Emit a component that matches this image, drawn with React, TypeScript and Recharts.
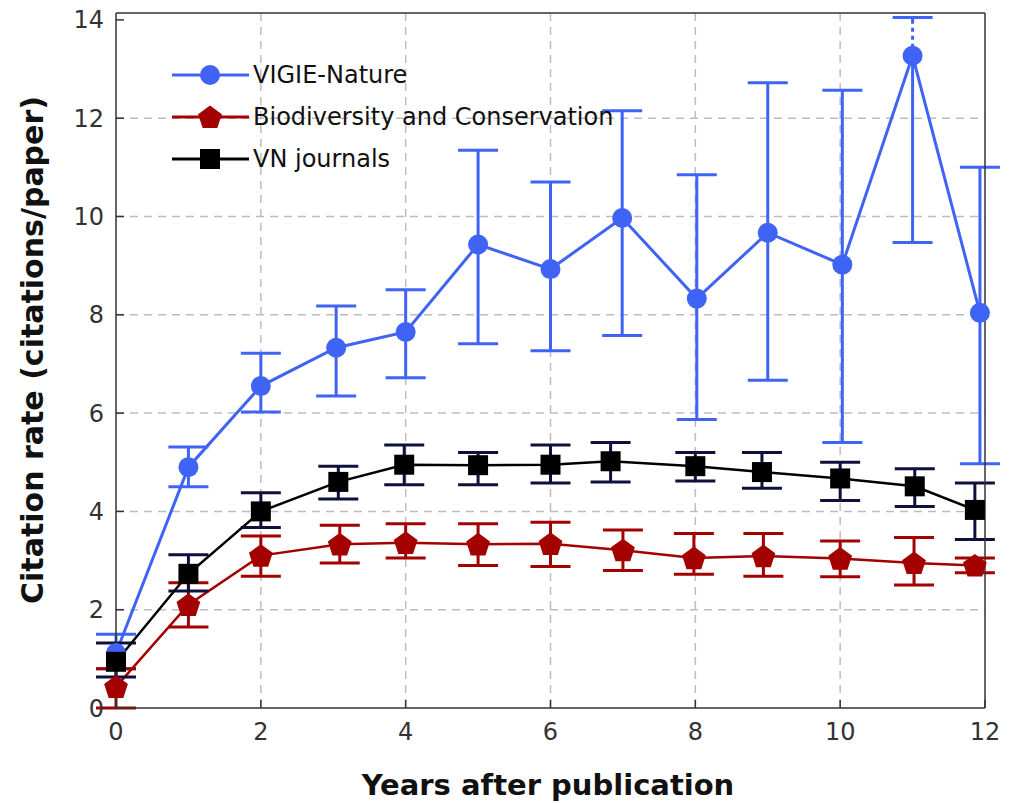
import React from 'react';
import { LineChart, Line, XAxis, YAxis, CartesianGrid, ErrorBar, Legend, Label } from 'recharts';

// VIGIE-Nature
const vigieX = [0, 1, 2, 3.04, 4, 5, 6, 6.99, 8.02, 9, 10.03, 11, 11.93];
const vigieY = [1.12, 4.9, 6.55, 7.33, 7.65, 9.43, 8.93, 9.97, 8.33, 9.67, 9.02, 13.27, 8.04];
const vigieHi = [1.5, 5.31, 7.22, 8.18, 8.51, 11.35, 10.7, 12.15, 10.85, 12.72, 12.57, 14.05, 11.0];
const vigieLo = [0.8, 4.5, 6.02, 6.35, 6.72, 7.41, 7.27, 7.58, 5.87, 6.67, 5.4, 9.47, 4.97];
// point whose upper whisker is drawn dotted in the original
const vigieDotted = 11;

// Biodiversity and Conservation
const bioX = [0, 1, 2, 3.09, 4, 5, 6, 7, 7.98, 8.94, 10, 11.02, 11.86];
const bioY = [0.43, 2.1, 3.1, 3.33, 3.36, 3.33, 3.34, 3.21, 3.05, 3.09, 3.04, 2.95, 2.9];
const bioHi = [0.8, 2.55, 3.5, 3.72, 3.75, 3.75, 3.78, 3.62, 3.55, 3.55, 3.4, 3.47, 3.05];
const bioLo = [0, 1.65, 2.68, 2.95, 3.05, 2.9, 2.88, 2.8, 2.72, 2.68, 2.67, 2.5, 2.75];

// VN journals
const vnX = [0, 1, 2, 3.07, 3.98, 5, 6, 6.83, 8, 8.92, 10, 11.03, 11.86];
const vnY = [0.94, 2.73, 4.0, 4.6, 4.95, 4.94, 4.95, 5.02, 4.92, 4.8, 4.67, 4.51, 4.03];
const vnHi = [1.32, 3.12, 4.38, 4.92, 5.35, 5.2, 5.35, 5.4, 5.2, 5.2, 5.0, 4.87, 4.58];
const vnLo = [0.63, 2.38, 3.67, 4.25, 4.54, 4.54, 4.58, 4.6, 4.62, 4.47, 4.22, 4.1, 3.43];

const xTicks = [0, 2, 4, 6, 8, 10, 12];
const yTicks = [0, 2, 4, 6, 8, 10, 12, 14];

const BLUE = '#3f64f5';
const RED = '#a30000';
const BLACK = '#000000';
const NAVY = '#10103c';
const FONT = '"DejaVu Sans", sans-serif';

const build = (xs: number[], ys: number[], hi: number[], lo: number[]) =>
  xs.map((x, i) => ({ x, y: ys[i], err: [ys[i] - lo[i], hi[i] - ys[i]] }));

const vigieData = build(vigieX, vigieY, vigieHi, vigieLo);
const bioData = build(bioX, bioY, bioHi, bioLo);
const vnData = build(vnX, vnY, vnHi, vnLo);

// white dashes over the upper whisker -> dotted look
const dottedMask = [
  { x: vigieX[vigieDotted], y: vigieY[vigieDotted] },
  { x: vigieX[vigieDotted], y: vigieHi[vigieDotted] },
];

const pentagonPoints = (cx: number, cy: number, r: number) =>
  Array.from({ length: 5 }, (_, k) => {
    const a = -Math.PI / 2 + (k * 2 * Math.PI) / 5;
    return `${cx + r * Math.cos(a)},${cy + r * Math.sin(a)}`;
  }).join(' ');

const CircleDot = (props: any) => (
  <circle key={`c-${props.index}`} cx={props.cx} cy={props.cy} r={10} fill={BLUE} />
);
const PentagonDot = (props: any) => (
  <polygon key={`p-${props.index}`} points={pentagonPoints(props.cx, props.cy + 1, 12.5)} fill={RED} />
);
const SquareDot = (props: any) => (
  <rect key={`s-${props.index}`} x={props.cx - 10} y={props.cy - 10} width={20} height={20} fill={BLACK} />
);

const legendItems = [
  { name: 'VIGIE-Nature', color: BLUE, shape: 'circle' },
  { name: 'Biodiversity and Conservation', color: RED, shape: 'pentagon' },
  { name: 'VN journals', color: BLACK, shape: 'square' },
];

const LegendBox = () => (
  <div style={{ fontFamily: FONT, fontSize: 24, color: '#111', textAlign: 'left' }}>
    {legendItems.map((it) => (
      <div key={it.name} style={{ display: 'flex', alignItems: 'center', height: 42 }}>
        <svg width={81} height={30}>
          <line x1={2} y1={15} x2={79} y2={15} stroke={it.color} strokeWidth={3} />
          {it.shape === 'circle' && <circle cx={40} cy={15} r={10} fill={it.color} />}
          {it.shape === 'pentagon' && <polygon points={pentagonPoints(40, 16, 12.5)} fill={it.color} />}
          {it.shape === 'square' && <rect x={30} y={5} width={20} height={20} fill={it.color} />}
        </svg>
        <span style={{ marginLeft: 2 }}>{it.name}</span>
      </div>
    ))}
  </div>
);

const tickStyle = { fontFamily: FONT, fontSize: 24, fill: '#333' };
const axisStroke = { stroke: '#333', strokeWidth: 1.5 };

export default function App() {
  return (
    <div style={{ position: 'absolute', left: 0, top: 0, width: 1019, height: 803, background: '#fff' }}>
      <LineChart width={1019} height={803} margin={{ top: 12, right: 33, bottom: 0, left: 0 }}>
        <CartesianGrid
          strokeDasharray="8 6"
          stroke="#bdbdbd"
          strokeWidth={1.5}
          horizontalValues={[2, 4, 6, 8, 10, 12]}
          verticalValues={[2, 4, 6, 8, 10]}
        />
        <XAxis
          dataKey="x"
          type="number"
          domain={[0, 12]}
          ticks={xTicks}
          height={95}
          tickSize={-8}
          tickMargin={23}
          tick={tickStyle}
          axisLine={axisStroke}
          tickLine={axisStroke}
        >
          <Label
            content={() => (
              <text x={548} y={795} textAnchor="middle" fontFamily={FONT} fontSize={29} fontWeight="bold" fill="#111">
                Years after publication
              </text>
            )}
          />
        </XAxis>
        <XAxis
          xAxisId="top"
          orientation="top"
          type="number"
          domain={[0, 12]}
          ticks={xTicks}
          height={1}
          tick={() => <g />}
          tickSize={-8}
          axisLine={axisStroke}
          tickLine={axisStroke}
        />
        <YAxis
          type="number"
          domain={[0, 14.14]}
          ticks={yTicks}
          width={116}
          tickSize={-8}
          tickMargin={20}
          tick={tickStyle}
          axisLine={axisStroke}
          tickLine={axisStroke}
        >
          <Label
            content={() => (
              <text
                x={32}
                y={350}
                textAnchor="middle"
                dominantBaseline="central"
                transform="rotate(-90 32 350)"
                fontFamily={FONT}
                fontSize={30}
                fontWeight="bold"
                fill="#111"
              >
                Citation rate (citations/paper)
              </text>
            )}
          />
        </YAxis>
        <YAxis
          yAxisId="right"
          orientation="right"
          type="number"
          domain={[0, 14.14]}
          ticks={yTicks}
          width={1}
          tick={() => <g />}
          tickSize={-8}
          axisLine={axisStroke}
          tickLine={axisStroke}
        />
        <Legend
          layout="horizontal"
          verticalAlign="middle"
          align="center"
          content={<LegendBox />}
          wrapperStyle={{ left: 170, top: 54, width: 'auto' }}
        />
        <Line
          data={vigieData}
          dataKey="y"
          name="VIGIE-Nature"
          stroke={BLUE}
          strokeWidth={3}
          dot={CircleDot}
          activeDot={false}
          isAnimationActive={false}
        >
          <ErrorBar dataKey="err" direction="y" stroke={BLUE} strokeWidth={3} width={20} isAnimationActive={false} />
        </Line>
        <Line
          data={dottedMask}
          dataKey="y"
          stroke="#ffffff"
          strokeWidth={5}
          strokeDasharray="0 12 4 4 4 4 4 4 0 200"
          dot={false}
          activeDot={false}
          legendType="none"
          isAnimationActive={false}
        />
        <Line
          data={bioData}
          dataKey="y"
          name="Biodiversity and Conservation"
          stroke={RED}
          strokeWidth={2.5}
          dot={PentagonDot}
          activeDot={false}
          isAnimationActive={false}
        >
          <ErrorBar dataKey="err" direction="y" stroke={RED} strokeWidth={3} width={20} isAnimationActive={false} />
        </Line>
        <Line
          data={vnData}
          dataKey="y"
          name="VN journals"
          stroke={BLACK}
          strokeWidth={2.5}
          dot={SquareDot}
          activeDot={false}
          isAnimationActive={false}
        >
          <ErrorBar dataKey="err" direction="y" stroke={NAVY} strokeWidth={3} width={20} isAnimationActive={false} />
        </Line>
      </LineChart>
    </div>
  );
}
